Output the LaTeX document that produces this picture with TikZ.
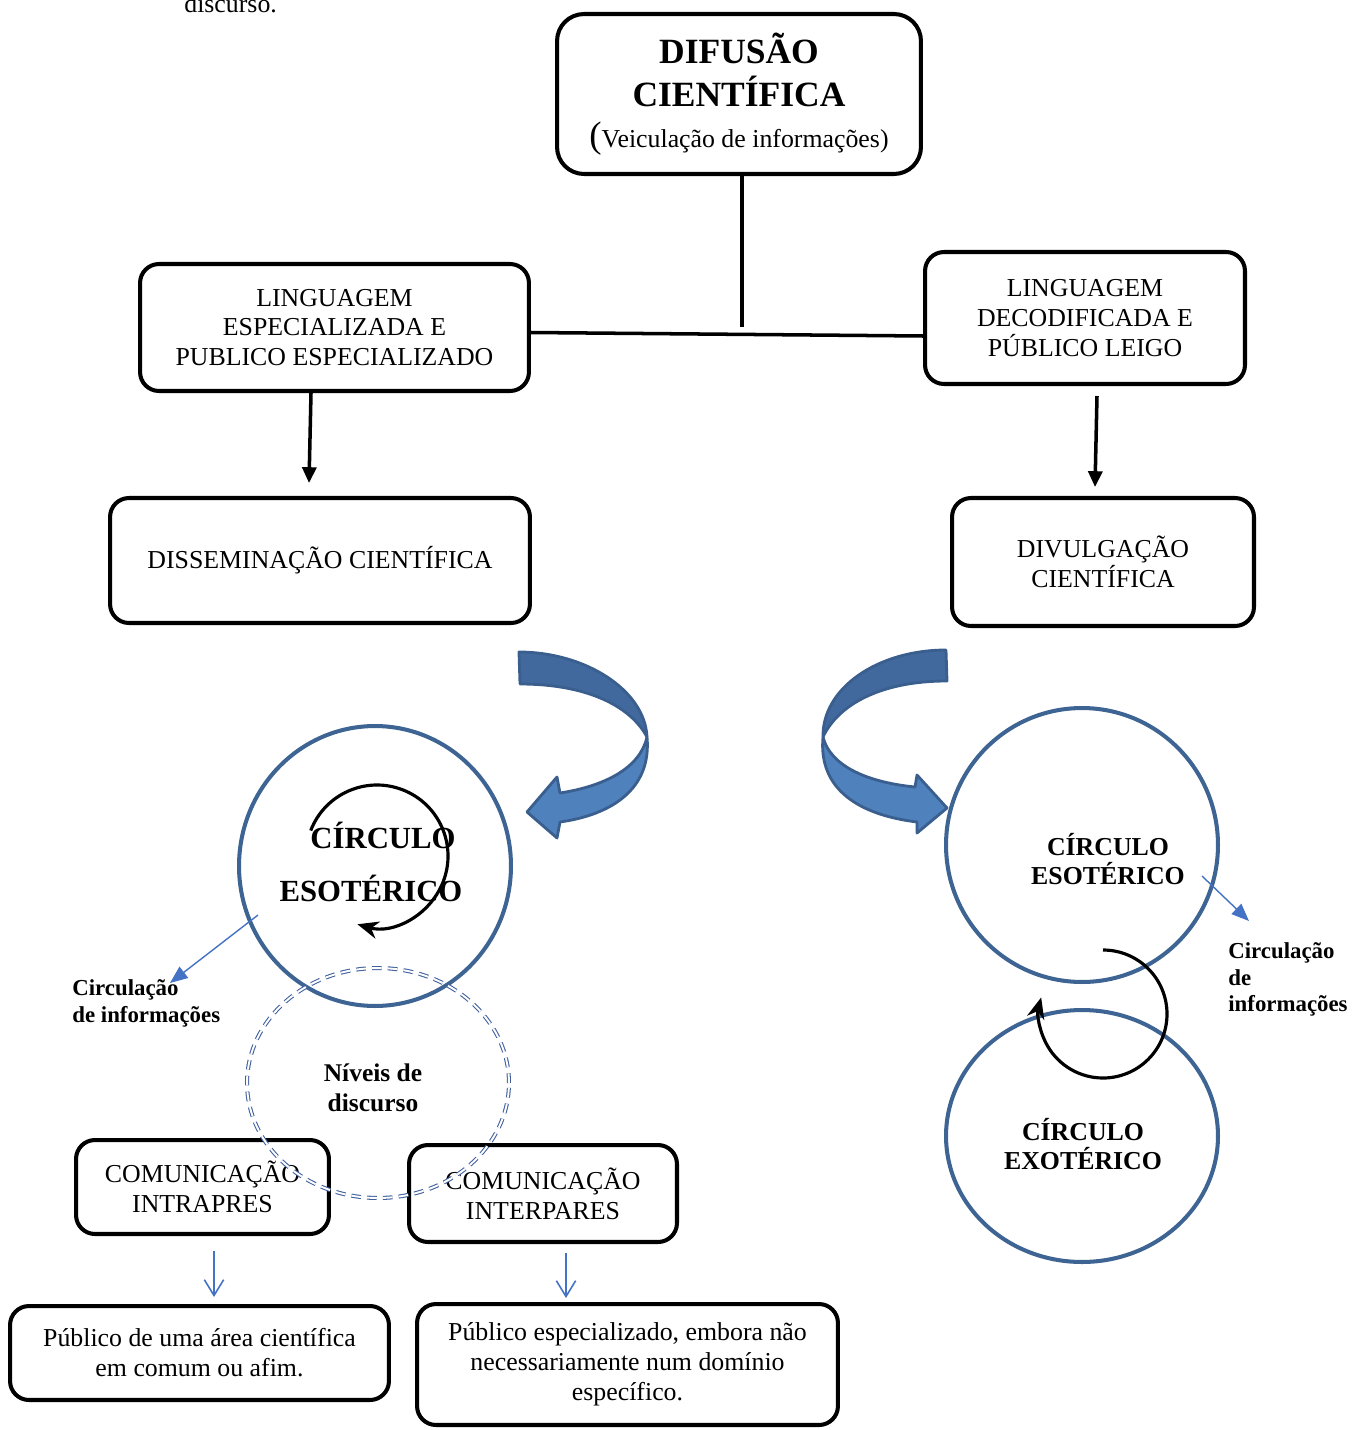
\documentclass[tikz,border=0pt]{standalone}
\usepackage{fontspec}
\setmainfont{Liberation Serif}
\usepackage{tikz}
\usetikzlibrary{positioning}
\usetikzlibrary{arrows.meta}
\usetikzlibrary{shapes.geometric}
\usepackage{xcolor}

\definecolor{azulcirc}{HTML}{3E6493}
\definecolor{azulseta}{HTML}{4F81BD}
\definecolor{azulescuro}{HTML}{41699D}
\definecolor{azulborda}{HTML}{3A5F8E}
\definecolor{azulfino}{HTML}{4472C4}
\definecolor{azultraco}{HTML}{3F5F9E}

\tikzset{
  caixa/.style={draw, line width=2.3pt, rounded corners=0.38cm, align=center, inner sep=0pt},
  circulo/.style={draw=azulcirc, line width=2.3pt, ellipse, inner sep=0pt},
  niveis/.style={draw=azultraco, ellipse, double, line width=0.6pt, double distance=1.1pt, dash pattern=on 5.5pt off 3.5pt, inner sep=0pt},
  rotulo/.style={inner sep=0pt, align=center, font=\bfseries\fontsize{14.7}{17}\selectfont},
  nota/.style={inner sep=0pt, align=left, anchor=west, font=\bfseries\fontsize{13}{15.3}\selectfont},
  ligacao/.style={line width=2pt},
  seta/.style={line width=2pt, -{Triangle[length=9pt,width=8pt]}},
  setafina/.style={azulfino, line width=0.8pt, -{Triangle[length=10pt,width=8pt]}},
  setaaberta/.style={azulfino, line width=0.9pt, -{Straight Barb[length=9pt,width=11pt]}},
  giro/.style={line width=1.8pt, -{Stealth[length=12pt,width=10pt]}},
  curva/.style={draw=azulborda, line width=1.6pt, line join=round},
}

\begin{document}
\begin{tikzpicture}[x=0.02cm, y=-0.02cm, every node/.style={font=\fontsize{14.7}{17}\selectfont}]
\useasboundingbox (0,0) rectangle (1361,1430);

\node[anchor=base west, inner sep=0pt] (discurso) at (184,12) {discurso.};

% Caixas
\node[caixa, rounded corners=0.54cm, minimum width=7.28cm, minimum height=3.2cm, font=\bfseries\fontsize{20.2}{24.4}\selectfont] (difusao) at (739,94)
  {DIFUSÃO\\CIENTÍFICA\\[-1pt]{\normalfont\fontsize{14.7}{17}\selectfont{\fontsize{21}{24}\selectfont(}Veiculação de informações)}};
\node[caixa, minimum width=7.78cm, minimum height=2.54cm] (lingesp) at (334.5,327.5) {LINGUAGEM\\ESPECIALIZADA E\\PUBLICO ESPECIALIZADO};
\node[caixa, minimum width=6.4cm, minimum height=2.64cm] (lingdec) at (1085,318) {LINGUAGEM\\DECODIFICADA E\\PÚBLICO LEIGO};
\node[caixa, minimum width=8.4cm, minimum height=2.5cm] (dissem) at (320,560.5) {DISSEMINAÇÃO CIENTÍFICA};
\node[caixa, minimum width=6.04cm, minimum height=2.56cm] (divulg) at (1103,562) {DIVULGAÇÃO\\CIENTÍFICA};
\node[caixa, minimum width=5.06cm, minimum height=1.88cm] (intrapres) at (202.5,1187) {COMUNICAÇÃO\\INTRAPRES};
\node[caixa, minimum width=5.36cm, minimum height=1.94cm] (interpares) at (543,1193.5) {COMUNICAÇÃO\\INTERPARES};
\node[caixa, minimum width=7.58cm, minimum height=1.88cm] (pubarea) at (199.5,1353) {Público de uma área científica\\em comum ou afim.};
\node[caixa, minimum width=8.42cm, minimum height=2.42cm] (pubesp) at (627.5,1364.5) {Público especializado, embora não\\necessariamente num domínio\\específico.};

% Ligacoes
\coordinate (juncao) at (742,327);
\draw[ligacao] (difusao.south -| juncao) -- (juncao);
\draw[ligacao] ([yshift=-0.1cm]lingesp.east) -- ([yshift=-0.36cm]lingdec.west);
\draw[seta] ([xshift=-0.47cm]lingesp.south) -- ++(-2,90);
\draw[seta] ([xshift=0.24cm,yshift=-0.2cm]lingdec.south) -- ++(-2,91);
\draw[setaaberta] ([xshift=0.23cm,yshift=-0.3cm]intrapres.south) -- ++(0,46);
\draw[setaaberta] ([xshift=0.46cm,yshift=-0.18cm]interpares.south) -- ++(0,45);

% Setas curvas
\filldraw[curva, fill=azulescuro] (519,652) .. controls (585,652) and (645,690) .. (647,737) .. controls (630,705) and (585,684) .. (520,684) -- cycle;
\filldraw[curva, fill=azulseta] (647,737) .. controls (652,790) and (610,815) .. (560,822) -- (557,838) -- (527,812) -- (557,777) -- (560,793) .. controls (605,786) and (640,768) .. (647,737) -- cycle;
\filldraw[curva, fill=azulescuro] (946,650) .. controls (878,650) and (822,688) .. (823,737) .. controls (838,705) and (880,681) .. (947,681) -- cycle;
\filldraw[curva, fill=azulseta] (823,737) .. controls (818,790) and (860,815) .. (917,822) -- (917,833) -- (947,808) -- (917,775) -- (915,787) .. controls (865,782) and (830,765) .. (823,737) -- cycle;

% Circulos
\node[circulo, minimum width=5.44cm, minimum height=5.6cm] (esotA) at (375,866) {};
\node[circulo, minimum width=5.44cm, minimum height=5.48cm] (esotB) at (1082,845) {};
\node[circulo, minimum width=5.44cm, minimum height=5.04cm] (exot) at (1082,1136) {};
\node[niveis, minimum width=5.24cm, minimum height=4.6cm] (niveis) at (378,1083) {};

\node[rotulo, font=\bfseries\fontsize{17.5}{30.6}\selectfont] (txtA) at (376,862) {\hspace*{0.28cm}CÍRCULO\\ESOTÉRICO\hspace*{0.2cm}};
\node[rotulo] (txtB) at (1108,859) {CÍRCULO\\ESOTÉRICO};
\node[rotulo] (txtC) at (1083,1144) {CÍRCULO\\EXOTÉRICO};
\node[rotulo, font=\bfseries\fontsize{14.5}{17}\selectfont] (txtniveis) at (373,1088) {Níveis de\\discurso};

\draw[giro] ([shift={(-159:71)}]377,856) arc[start angle=-159, end angle=106, radius=71];
\draw[giro] ([shift={(-90:64)}]1103,1014) arc[start angle=-90, end angle=195, radius=64];

% Circulacao de informacoes
\node[nota] (circA) at (72,1003.5) {Circulação\\de informações};
\node[nota] (circB) at (1228,979.5) {Circulação\\de\\informações};
\coordinate (saidaA) at (258,915);
\coordinate (pontaA) at (170,983);
\coordinate (saidaB) at (1202,876);
\coordinate (pontaB) at (1249,921);
\draw[setafina] (saidaA) -- (pontaA);
\draw[setafina] (saidaB) -- (pontaB);
\end{tikzpicture}
\end{document}
